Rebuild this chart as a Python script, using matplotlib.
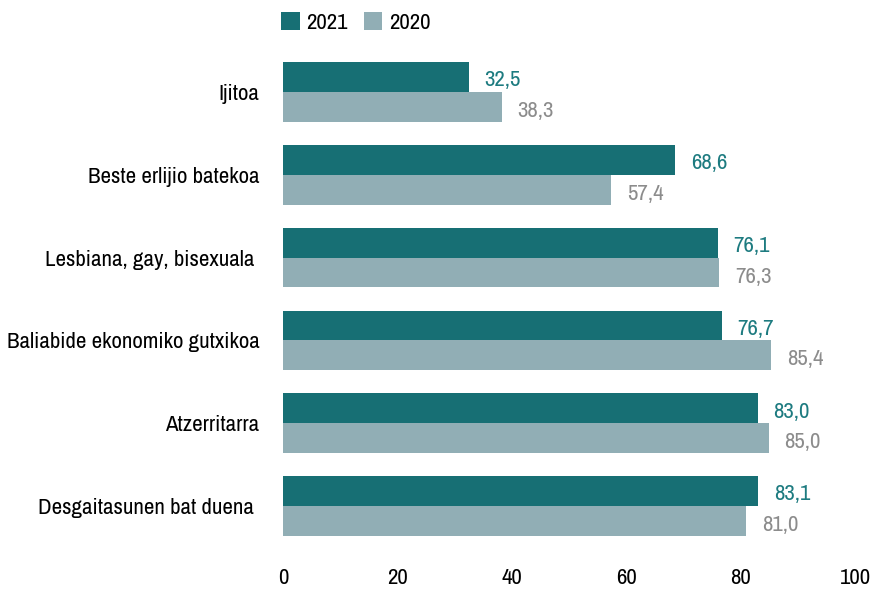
import matplotlib
matplotlib.use("Agg")
import matplotlib.pyplot as plt
import numpy as np

categories = [
    "Ijitoa",
    "Beste erlijio batekoa",
    "Lesbiana, gay, bisexuala ",
    "Baliabide ekonomiko gutxikoa",
    "Atzerritarra",
    "Desgaitasunen bat duena ",
]
values_2021 = [32.5, 68.6, 76.1, 76.7, 83.0, 83.1]
values_2020 = [38.3, 57.4, 76.3, 85.4, 85.0, 81.0]
x_ticks = [0, 20, 40, 60, 80, 100]

plt.rcParams["font.family"] = ["Archivo Narrow", "Roboto Condensed",
                               "Barlow Semi Condensed", "DejaVu Sans"]

color_2021 = "#176f74"
color_2020 = "#91aeb5"
font_size = 16.5

figure, axis = plt.subplots(figsize=(8.76, 5.91), dpi=100)
figure.subplots_adjust(left=0.323, right=0.976, bottom=0.0736, top=0.9146)

positions = np.arange(len(categories))
bar_height = 0.36

axis.barh(positions - bar_height / 2, values_2021, height=bar_height,
          color=color_2021, label="2021")
axis.barh(positions + bar_height / 2, values_2020, height=bar_height,
          color=color_2020, label="2020")

# value labels, decimal comma
for pos, v21, v20 in zip(positions, values_2021, values_2020):
    axis.text(v21 + 2.7, pos - bar_height / 2 + 0.04, f"{v21:.1f}".replace(".", ","),
              va="center", ha="left", fontsize=font_size, color="#1d7b80")
    axis.text(v20 + 2.7, pos + bar_height / 2 + 0.05, f"{v20:.1f}".replace(".", ","),
              va="center", ha="left", fontsize=font_size, color="#8c8c8c")

axis.set_xlim(0, 100)
axis.set_ylim(len(categories) - 0.5, -0.5)
axis.set_xticks(x_ticks)
axis.set_xticklabels([str(t) for t in x_ticks], fontsize=font_size)
axis.set_yticks(positions)
axis.set_yticklabels(categories, fontsize=font_size)
axis.tick_params(axis="both", length=0)
axis.tick_params(axis="x", pad=15)
axis.tick_params(axis="y", pad=17)

for spine in axis.spines.values():
    spine.set_visible(False)

axis.legend(loc="lower left", bbox_to_anchor=(-0.003, 1.035), ncol=2, frameon=False,
            fontsize=font_size, handlelength=0.8, handleheight=0.8, handletextpad=0.3,
            columnspacing=0.7, borderaxespad=0, borderpad=0)

figure.savefig("out.png", dpi=100)
